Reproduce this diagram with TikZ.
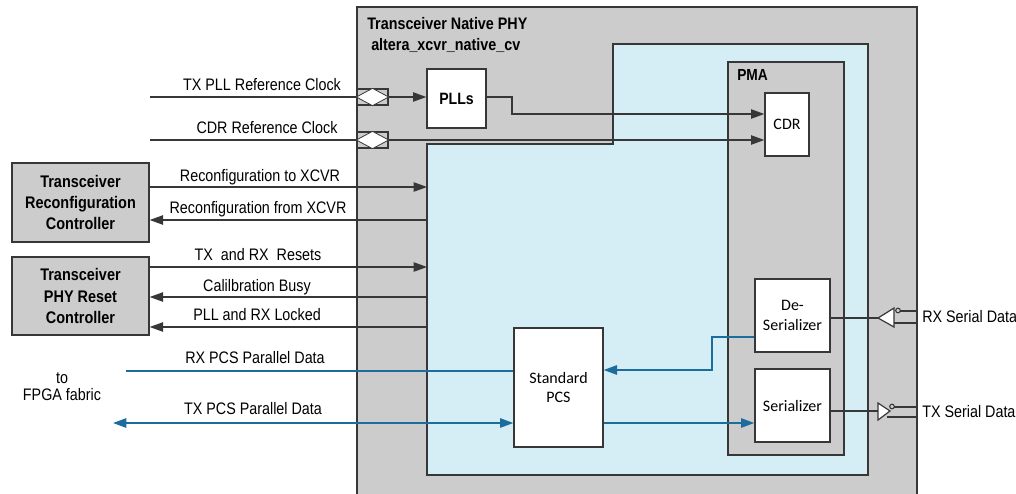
\documentclass[tikz,border=0pt]{standalone}
\usepackage{fontspec}
\setmainfont{Liberation Sans}[FakeStretch=0.86]
\newfontfamily\blockfont{Carlito}
\usetikzlibrary{arrows.meta,fit,calc}

\definecolor{phygray}{RGB}{204,204,204}
\definecolor{pcsblue}{RGB}{213,237,244}
\definecolor{linegray}{RGB}{55,55,55}
\definecolor{datablue}{RGB}{28,108,158}

\tikzset{
  blk/.style={draw=linegray, line width=1pt, inner sep=0pt},
  wbox/.style={blk, fill=white},
  gbox/.style={blk, fill=phygray},
  sig/.style={draw=linegray, line width=1pt},
  arr/.style={sig, -{Triangle[length=10pt,width=7pt]}},
  bsig/.style={draw=datablue, line width=1.3pt},
  barr/.style={bsig, -{Triangle[length=10pt,width=7pt]}},
  lbl/.style={font=\fontsize{12.5}{14}\selectfont, anchor=base, inner sep=0pt},
  ttl/.style={font=\fontsize{12.5}{15}\selectfont\bfseries, anchor=base west, inner sep=0pt},
  ctl/.style={font=\fontsize{12.6}{15.8}\selectfont\bfseries, align=center},
  inner/.style={font=\blockfont\fontsize{12}{14.5}\selectfont, align=center},
}

\begin{document}
\begin{tikzpicture}[x=0.75pt,y=-0.75pt]
\clip (0,0) rectangle (1016,493);
\fill[white] (0,0) rectangle (1016,493);

% native PHY block (runs past the lower edge)
\node[gbox, fit={(357,7)(917,505)}] (phy) {};
\node[ttl] (t1) at (367,29) {Transceiver Native PHY};
\node[ttl] (t2) at (371,50) {altera\_xcvr\_native\_cv};

% PCS/PMA region
\path[fill=pcsblue, draw=linegray, line width=1pt]
  (427,475) coordinate (regbl) -- (427,144) coordinate (regtl)
  -- (613,144) -- (613,44) -- (868,44) -- (868,475) -- cycle;

% PMA
\node[gbox, fit={(728,62)(844,455)}] (pma) {};
\node[font=\fontsize{12}{14}\selectfont\bfseries, anchor=base west, inner sep=0pt] (pmat) at (737,80) {PMA};

% blocks
\node[wbox, fit={(427,69)(486,128)}, label={[font=\fontsize{12.3}{14}\selectfont\bfseries]center:PLLs}] (plls) {};
\node[wbox, fit={(765,93)(809,156)}, label={[inner]center:CDR}] (cdr) {};
\node[wbox, fit={(514,328)(603,447)}, label={[inner]center:Standard\\PCS}] (pcs) {};
\node[wbox, fit={(755,279)(830,352)}, label={[inner]center:De-\\Serializer}] (deser) {};
\node[wbox, fit={(755,369)(830,442)}, label={[inner]center:Serializer}] (ser) {};

% controllers
\node[gbox, fit={(12,163)(149,242)}, label={[ctl]center:Transceiver\\Reconfiguration\\Controller}] (rcc) {};
\node[gbox, fit={(12,257)(149,335)}, label={[ctl]center:Transceiver\\PHY Reset\\Controller}] (rst) {};

% clock input ports
\foreach \n/\yy in {dA/97, dB/140}{
  \node[blk, fill=phygray, fit={(357,\yy-8)(388,\yy+8)}] (\n) {};
  \fill[white, draw=linegray, line width=0.6pt]
    (\n.west) -- (\n.north) -- (\n.east) -- (\n.south) -- cycle;
}
\coordinate (ckA) at (150,97);
\coordinate (ckB) at (150,140);

% clock connectors
\draw[sig] (ckA) -- (dA.west);
\draw[arr] (dA.east) -- (plls.west |- dA.east);
\draw[sig] (ckB) -- (dB.west);
\draw[arr] (dB.east) -- (cdr.west |- dB.east);
\draw[arr] (plls.east |- dA.east) -| (512,114) -- (cdr.west |- 0,114);
\node[lbl] at (262,90) {TX PLL Reference Clock};
\node[lbl] at (267,133) {CDR Reference Clock};

% control signals
\draw[arr] (rcc.east |- 0,187) -- (regtl |- 0,187);
\draw[arr] (regtl |- 0,220) -- (rcc.east |- 0,220);
\draw[arr] (rst.east |- 0,267) -- (regtl |- 0,267);
\draw[arr] (regtl |- 0,297) -- (rst.east |- 0,297);
\draw[arr] (regtl |- 0,327) -- (rst.east |- 0,327);
\node[lbl] at (260,181) {Reconfiguration to XCVR};
\node[lbl] at (258,213) {Reconfiguration from XCVR};
\node[lbl] at (258,260) {TX\ \ and RX\ \ Resets};
\node[lbl] at (257,291) {Calilbration Busy};
\node[lbl] at (257,320) {PLL and RX Locked};

% parallel data
\coordinate (fabA) at (126,371);
\coordinate (fabB) at (113,423);
\draw[bsig] (fabA) -- (pcs.west |- fabA);
\draw[bsig, {Triangle[length=10pt,width=7pt]}-{Triangle[length=10pt,width=7pt]}] (fabB) -- (pcs.west |- fabB);
\node[lbl] at (255,363) {RX PCS Parallel Data};
\node[lbl] at (253,414) {TX PCS Parallel Data};
\node[font=\fontsize{12.5}{13}\selectfont, align=center, inner sep=0pt] (fab) at (62,387) {to\\FPGA fabric};

% PMA to PCS
\draw[barr] (deser.west |- 0,337) -| (712,370) -- (pcs.east |- 0,370);
\draw[barr] (pcs.east |- 0,423) -- (ser.west |- 0,423);

% serial buffers
\coordinate (rxb) at (878,318);
\coordinate (txb) at (878,411);
\draw[sig] (deser.east |- rxb) -- (rxb);
\draw[fill=white, draw=linegray, line width=0.9pt] (rxb) -- (894,308) -- (894,327) -- cycle;
\draw[draw=linegray, line width=0.8pt] (898,310.5) circle (2.3);
\draw[sig] (900.3,311) -- (phy.east |- 0,311);
\draw[sig] (894,323) -- (phy.east |- 0,323);
\node[lbl, anchor=base west] at (922,322) {RX Serial Data};

\draw[sig] (ser.east |- txb) -- (txb);
\draw[fill=white, draw=linegray, line width=0.9pt] (878,403) -- (890,411) -- (878,420) -- cycle;
\draw[draw=linegray, line width=0.8pt] (892,406.5) circle (2.3);
\draw[sig] (894.3,407) -- (phy.east |- 0,407);
\draw[sig] (887,417) -- (phy.east |- 0,417);
\node[lbl, anchor=base west] at (922,417) {TX Serial Data};
\end{tikzpicture}
\end{document}
